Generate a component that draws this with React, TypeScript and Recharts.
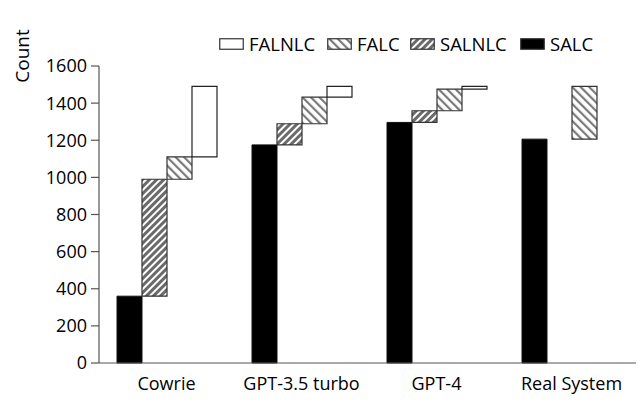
import { BarChart, Bar, XAxis, YAxis } from 'recharts';

// categories and per-stage increments (counts)
const categories = ['Cowrie', 'GPT-3.5 turbo', 'GPT-4', 'Real System'];
const salc = [360, 1175, 1296, 1206];
const salnlc = [630, 114, 63, 0];
const falc = [120, 143, 116, 284];
const falnlc = [380, 58, 15, 0];
const yTicks = [0, 200, 400, 600, 800, 1000, 1200, 1400, 1600];

// waterfall: each stage floats on top of the previous one
const data = categories.map((name, i) => {
    const a = salc[i];
    const b = a + salnlc[i];
    const c = b + falc[i];
    const d = c + falnlc[i];
    return { name, salc: [0, a], salnlc: [a, b], falc: [b, c], falnlc: [c, d] };
});

const font = '"Open Sans", "Noto Sans", sans-serif';

const legendItems = [
    { label: 'FALNLC', fill: '#fff', left: 211 },
    { label: 'FALC', fill: 'url(#lgFalc)', left: 319 },
    { label: 'SALNLC', fill: 'url(#lgSalnlc)', left: 402 },
    { label: 'SALC', fill: '#000', left: 512 },
];

function Hatches({ prefix }: { prefix: string }) {
    return (
        <defs>
            <pattern id={prefix + 'Falc'} patternUnits="userSpaceOnUse" width="6" height="6" patternTransform="rotate(-45)">
                <rect width="6" height="6" fill="#fff" />
                <rect width="2.2" height="6" fill="#7a7a7a" />
            </pattern>
            <pattern id={prefix + 'Salnlc'} patternUnits="userSpaceOnUse" width="5" height="5" patternTransform="rotate(45)">
                <rect width="5" height="5" fill="#fff" />
                <rect width="3" height="5" fill="#6a6a6a" />
            </pattern>
        </defs>
    );
}

export default function App() {
    return (
        <div style={{ position: 'relative', width: 636, height: 396, fontFamily: font }}>
            {legendItems.map((it) => (
                <div key={it.label} style={{ position: 'absolute', left: it.left, top: 23, display: 'flex', alignItems: 'center', gap: 5, fontSize: 18.5, color: '#000', zIndex: 1 }}>
                    <svg width={25} height={12}>
                        <Hatches prefix="lg" />
                        <rect x={0.75} y={0.75} width={23.5} height={10.5} fill={it.fill} stroke="#333" strokeWidth={1.2} />
                    </svg>
                    <span>{it.label}</span>
                </div>
            ))}
            <BarChart
                width={636}
                height={396}
                data={data}
                margin={{ top: 58, right: 5, bottom: 0, left: 0 }}
                barCategoryGap="13%"
                barGap={0}
            >
                <Hatches prefix="bar" />
                <XAxis
                    dataKey="name"
                    axisLine={{ stroke: '#555', strokeWidth: 1.2 }}
                    tickLine={false}
                    tick={{ fontSize: 18, fill: '#000', fontFamily: font }}
                    tickMargin={8}
                    height={41}
                />
                <YAxis
                    domain={[0, 1600]}
                    ticks={yTicks}
                    width={91}
                    axisLine={{ stroke: '#555', strokeWidth: 1.2 }}
                    tickLine={{ stroke: '#555', strokeWidth: 1.2 }}
                    tickSize={8}
                    tickMargin={4}
                    tick={{ fontSize: 18, fill: '#000', fontFamily: font }}
                    label={{
                        content: () => (
                            <text x={14} y={48} transform="rotate(-90 14 48)" textAnchor="middle" dominantBaseline="central" fontSize={19} fontFamily={font} fill="#000">
                                Count
                            </text>
                        ),
                    }}
                />
                <Bar dataKey="salc" barSize={25} fill="#000" stroke="#111" strokeWidth={1} isAnimationActive={false} />
                <Bar dataKey="salnlc" barSize={25} fill="url(#barSalnlc)" stroke="#333" strokeWidth={1.2} isAnimationActive={false} />
                <Bar dataKey="falc" barSize={25} fill="url(#barFalc)" stroke="#333" strokeWidth={1.2} isAnimationActive={false} />
                <Bar dataKey="falnlc" barSize={25} fill="#fff" stroke="#222" strokeWidth={1.2} isAnimationActive={false} />
            </BarChart>
        </div>
    );
}
